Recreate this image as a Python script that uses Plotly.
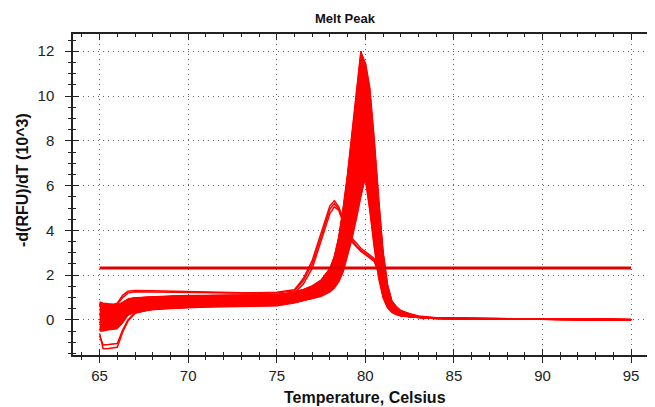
import plotly.graph_objects as go

# ---------------- data ----------------
# temperature grid of the low-temperature (baseline) part
T_base = [65.0, 65.2, 65.5, 65.8, 66.0, 66.3, 66.6, 67.0, 68.0, 69.0, 70.0, 71.0, 72.0, 73.0, 74.0, 75.0]
# temperature grid of the melt-peak part
T_peak = [76.0, 76.5, 77.0, 77.5, 78.0, 78.25, 78.5, 78.75, 79.0, 79.25, 79.5, 79.75, 80.0, 80.25,
          80.5, 80.75, 81.0, 81.25, 81.5, 81.75, 82.0, 82.5, 83.0, 84.0, 86.0, 90.0, 95.0]

# dense band of baseline curves (lower / upper edge), -d(RFU)/dT in 10^3
T_band = [65.0, 65.2, 65.5, 65.8, 66.0, 66.3, 66.6, 67.0, 68.0, 69.0, 70.0, 71.0, 72.0, 73.0, 74.0, 75.0, 76.0, 76.5, 77.0]
band_lower = [-0.5, -0.5, -0.45, -0.42, -0.4, -0.15, 0.2, 0.35, 0.45, 0.5, 0.55, 0.57, 0.58, 0.6, 0.6, 0.62, 0.75, 0.85, 0.95]
band_upper = [0.75, 0.72, 0.7, 0.68, 0.68, 0.8, 0.95, 1.0, 1.05, 1.08, 1.1, 1.1, 1.1, 1.1, 1.12, 1.15, 1.22, 1.3, 1.4]

# dense region of the main melt peak (lower / upper edge of the bundle of curves)
T_env = [76.0, 76.5, 77.0, 77.5, 78.0, 78.25, 78.5, 78.75, 79.0, 79.25, 79.5, 79.75, 80.0, 80.25,
         80.5, 80.75, 81.0, 81.25, 81.5, 81.75, 82.0, 82.5, 83.0]
env_lower = [0.85, 0.89, 0.96, 1.06, 1.26, 1.43, 1.71, 2.17, 2.85, 3.65, 4.56, 5.53, 6.31, 4.93, 3.27, 1.89, 1.00, 0.55, 0.34, 0.24, 0.18, 0.13, 0.11]
env_upper = [1.25, 1.36, 1.52, 1.78, 2.30, 2.82, 3.68, 4.99, 6.53, 8.28, 10.14, 12.0, 11.5, 10.36, 8.08, 5.34, 3.06, 1.58, 0.84, 0.60, 0.42, 0.28, 0.18]

# baseline profiles (values at T_base)
base_B0 = [-0.4, -0.45, -0.4, -0.35, -0.3, -0.05, 0.25, 0.4, 0.5, 0.55, 0.58, 0.6, 0.62, 0.63, 0.65, 0.7]
base_B1 = [-0.1, -0.15, -0.1, -0.05, 0.0, 0.2, 0.45, 0.6, 0.7, 0.75, 0.78, 0.8, 0.82, 0.83, 0.85, 0.88]
base_B2 = [0.25, 0.2, 0.2, 0.22, 0.25, 0.45, 0.7, 0.82, 0.9, 0.93, 0.95, 0.97, 0.98, 0.99, 1.0, 1.02]
base_B3 = [0.65, 0.6, 0.55, 0.55, 0.6, 0.75, 0.9, 0.98, 1.02, 1.05, 1.07, 1.08, 1.09, 1.1, 1.1, 1.12]
base_L1 = [-0.6, -1.28, -1.27, -1.25, -1.22, -0.55, -0.05, 0.3, 0.5, 0.55, 0.58, 0.6, 0.62, 0.63, 0.65, 0.68]
base_L2 = [-0.7, -1.12, -1.1, -1.08, -1.05, -0.45, 0.0, 0.32, 0.48, 0.53, 0.57, 0.6, 0.61, 0.62, 0.64, 0.67]
base_U1 = [0.8, 0.75, 0.72, 0.7, 0.75, 1.1, 1.28, 1.32, 1.3, 1.28, 1.27, 1.25, 1.23, 1.22, 1.22, 1.24]
base_U2 = [0.72, 0.7, 0.68, 0.66, 0.7, 1.0, 1.2, 1.26, 1.25, 1.24, 1.22, 1.2, 1.19, 1.18, 1.19, 1.2]

# melt-peak parts (values at T_peak)
peak_01 = [1.16, 1.27, 1.43, 1.71, 2.25, 2.80, 3.68, 4.99, 6.53, 8.28, 10.14, 12.0, 10.81, 8.43, 5.57, 3.19, 1.65, 0.87, 0.52, 0.34, 0.24, 0.16, 0.12, 0.08, 0.06, 0.04, 0.01]
peak_02 = [1.25, 1.36, 1.52, 1.78, 2.30, 2.82, 3.66, 4.91, 6.38, 8.05, 9.82, 11.6, 10.45, 8.15, 5.39, 3.09, 1.60, 0.85, 0.50, 0.33, 0.24, 0.16, 0.12, 0.09, 0.07, 0.05, 0.02]
peak_03 = [1.05, 1.16, 1.31, 1.57, 2.08, 2.59, 3.41, 4.64, 6.08, 7.72, 9.46, 11.2, 10.09, 7.87, 5.21, 2.99, 1.54, 0.82, 0.49, 0.32, 0.23, 0.16, 0.12, 0.08, 0.06, 0.03, 0.0]
peak_04 = [1.13, 1.21, 1.34, 1.52, 1.89, 2.20, 2.72, 3.56, 4.81, 6.28, 7.95, 9.72, 11.5, 10.36, 8.08, 5.34, 3.06, 1.58, 0.84, 0.60, 0.42, 0.28, 0.18, 0.10, 0.06, 0.04, 0.01]
peak_05 = [0.88, 0.95, 1.09, 1.26, 1.62, 1.92, 2.43, 3.25, 4.47, 5.90, 7.53, 9.27, 11.0, 9.91, 7.73, 5.11, 2.93, 1.52, 0.81, 0.48, 0.32, 0.19, 0.13, 0.08, 0.06, 0.03, 0.01]
peak_06 = [1.15, 1.24, 1.38, 1.62, 2.10, 2.58, 3.34, 4.49, 5.83, 7.35, 8.98, 10.6, 9.55, 7.45, 4.93, 2.83, 1.47, 0.78, 0.47, 0.31, 0.23, 0.15, 0.12, 0.08, 0.05, 0.03, 0.01]
peak_07 = [1.22, 1.29, 1.41, 1.57, 1.89, 2.17, 2.63, 3.37, 4.48, 5.78, 7.26, 8.83, 10.4, 9.37, 7.31, 4.84, 2.78, 1.44, 0.77, 0.52, 0.38, 0.24, 0.16, 0.09, 0.07, 0.04, 0.02]
peak_08 = [1.04, 1.13, 1.27, 1.49, 1.95, 2.40, 3.12, 4.21, 5.48, 6.92, 8.46, 10.0, 9.01, 7.03, 4.65, 2.67, 1.39, 0.74, 0.45, 0.30, 0.22, 0.15, 0.12, 0.07, 0.05, 0.03, 0.0]
peak_09 = [1.12, 1.18, 1.29, 1.43, 1.73, 1.99, 2.42, 3.10, 4.13, 5.33, 6.69, 8.15, 9.6, 8.65, 6.75, 4.47, 2.57, 1.34, 0.72, 0.43, 0.29, 0.18, 0.13, 0.08, 0.06, 0.04, 0.01]
peak_10 = [0.88, 0.97, 1.09, 1.30, 1.72, 2.14, 2.82, 3.82, 5.00, 6.34, 7.77, 9.2, 8.29, 6.47, 4.29, 2.47, 1.28, 0.69, 0.42, 0.28, 0.21, 0.15, 0.12, 0.08, 0.06, 0.03, 0.01]
peak_11 = [1.21, 1.26, 1.36, 1.49, 1.75, 1.98, 2.36, 2.96, 3.87, 4.93, 6.13, 7.42, 8.7, 7.84, 6.12, 4.06, 2.34, 1.22, 0.66, 0.40, 0.27, 0.17, 0.13, 0.09, 0.07, 0.04, 0.02]
peak_12 = [1.12, 1.19, 1.30, 1.48, 1.84, 2.19, 2.77, 3.62, 4.63, 5.77, 6.98, 8.2, 7.39, 5.77, 3.83, 2.21, 1.15, 0.63, 0.38, 0.26, 0.20, 0.14, 0.11, 0.07, 0.05, 0.03, 0.01]
peak_13 = [1.00, 1.05, 1.14, 1.25, 1.48, 1.68, 2.01, 2.55, 3.34, 4.28, 5.34, 6.47, 7.6, 6.85, 5.35, 3.55, 2.05, 1.08, 0.59, 0.36, 0.25, 0.16, 0.12, 0.08, 0.06, 0.03, 0.01]
peak_14 = [1.11, 1.17, 1.26, 1.41, 1.70, 2.00, 2.48, 3.19, 4.03, 4.98, 5.99, 7.0, 6.31, 4.93, 3.27, 1.89, 1.00, 0.55, 0.34, 0.24, 0.18, 0.13, 0.11, 0.07, 0.05, 0.03, 0.0]
peak_15 = [0.85, 0.89, 0.96, 1.06, 1.26, 1.43, 1.71, 2.17, 2.85, 3.65, 4.56, 5.53, 6.5, 5.86, 4.58, 3.04, 1.76, 0.93, 0.52, 0.32, 0.23, 0.15, 0.12, 0.08, 0.06, 0.03, 0.01]
# wells with an extra low-temperature peak (~78.2 C)
peak_S1 = [1.35, 1.85, 2.65, 3.85, 5.1, 5.33, 5.05, 4.5, 4.0, 3.65, 3.4, 3.2, 3.05, 2.9, 2.75, 2.3, 1.4, 0.8, 0.45, 0.3, 0.22, 0.15, 0.12, 0.08, 0.06, 0.03, 0.01]
peak_S2 = [1.3, 1.75, 2.5, 3.7, 4.95, 5.2, 4.95, 4.4, 3.9, 3.55, 3.3, 3.12, 2.98, 2.84, 2.68, 2.2, 1.3, 0.75, 0.43, 0.29, 0.21, 0.15, 0.12, 0.08, 0.05, 0.03, 0.01]
peak_S3 = [1.2, 1.6, 2.3, 3.5, 4.75, 5.05, 4.9, 4.35, 3.82, 3.48, 3.25, 3.06, 2.92, 2.78, 2.62, 2.1, 1.25, 0.7, 0.4, 0.28, 0.2, 0.14, 0.11, 0.07, 0.05, 0.03, 0.0]

# (baseline, peak) pairs making up each well's curve
wells = [
    (base_B2, peak_01), (base_B3, peak_02), (base_B1, peak_03), (base_B2, peak_04),
    (base_L1, peak_05), (base_B2, peak_06), (base_B3, peak_07), (base_B1, peak_08),
    (base_B2, peak_09), (base_B0, peak_10), (base_B3, peak_11), (base_B2, peak_12),
    (base_B1, peak_13), (base_B2, peak_14), (base_L2, peak_15),
    (base_U1, peak_S1), (base_U2, peak_S2), (base_B3, peak_S3),
]

threshold_x = [65.0, 95.0]
threshold_value = 2.32

x_ticks = [65, 70, 75, 80, 85, 90, 95]
y_ticks = [0, 2, 4, 6, 8, 10, 12]

# ---------------- styling ----------------
RED = "#ff0000"
AXC = "#222222"
FONT = "Liberation Sans, Arial, sans-serif"

fig = go.Figure()


def add_band(xs, lo, hi):
    fig.add_trace(go.Scatter(x=xs, y=lo, mode="lines", line=dict(color=RED, width=1),
                             hoverinfo="skip", showlegend=False))
    fig.add_trace(go.Scatter(x=xs, y=hi, mode="lines", fill="tonexty", fillcolor=RED,
                             line=dict(color=RED, width=1), hoverinfo="skip", showlegend=False))


add_band(T_band, band_lower, band_upper)
add_band(T_env, env_lower, env_upper)

for base, peak in wells:
    fig.add_trace(go.Scatter(x=T_base + T_peak, y=base + peak, mode="lines",
                             line=dict(color=RED, width=1.5), showlegend=False))

fig.add_trace(go.Scatter(x=threshold_x, y=[threshold_value] * len(threshold_x), mode="lines",
                         line=dict(color="#e00000", width=3), showlegend=False))

# invisible trace for the overlay axes (inner tick marks)
fig.add_trace(go.Scatter(x=[65], y=[0], xaxis="x2", yaxis="y2", mode="markers",
                         marker=dict(opacity=0), hoverinfo="skip", showlegend=False))

XR = [63.5, 96.35]
YR = [-1.564, 12.77]

# the page adds an 8px body margin, so the figure is 8px smaller on each side
fig.update_layout(
    width=647, height=399,
    margin=dict(l=65, r=0, t=26, b=52),
    paper_bgcolor="white", plot_bgcolor="white",
    showlegend=False,
    xaxis=dict(range=XR, tickmode="array", tickvals=x_ticks, ticktext=[str(v) for v in x_ticks],
               ticks="outside", ticklen=6, tickwidth=1.3, tickcolor=AXC,
               showline=True, linecolor=AXC, linewidth=1.5, mirror=True,
               showgrid=True, gridcolor="#666666", gridwidth=1, griddash="1px,4px",
               zeroline=False, tickfont=dict(family=FONT, size=15, color=AXC),
               minor=dict(dtick=1, tick0=65, ticks="outside", ticklen=3, tickcolor=AXC, tickwidth=1.2, showgrid=False)),
    yaxis=dict(range=YR, tickmode="array", tickvals=y_ticks, ticktext=[str(v) for v in y_ticks],
               ticks="outside", ticklen=6, tickwidth=1.3, tickcolor=AXC,
               showline=True, linecolor=AXC, linewidth=1.5, mirror=False,
               showgrid=True, gridcolor="#666666", gridwidth=1, griddash="1px,4px",
               zeroline=False, tickfont=dict(family=FONT, size=15, color=AXC),
               ticklabelstandoff=8,
               minor=dict(dtick=0.5, tick0=0, ticks="outside", ticklen=3, tickcolor=AXC, tickwidth=1.2, showgrid=False)),
    xaxis2=dict(range=XR, overlaying="x", anchor="y", side="bottom",
                tickmode="array", tickvals=x_ticks, ticks="inside", ticklen=6, tickwidth=1.3, tickcolor=AXC,
                showticklabels=False, showgrid=False, showline=False, zeroline=False, mirror="ticks",
                minor=dict(dtick=1, tick0=65, ticks="inside", ticklen=3, tickcolor=AXC, tickwidth=1.2, showgrid=False)),
    yaxis2=dict(range=YR, overlaying="y", anchor="x", side="left",
                tickmode="array", tickvals=y_ticks, ticks="inside", ticklen=6, tickwidth=1.3, tickcolor=AXC,
                showticklabels=False, showgrid=False, showline=False, zeroline=False,
                minor=dict(dtick=0.5, tick0=0, ticks="inside", ticklen=3, tickcolor=AXC, tickwidth=1.2, showgrid=False)),
    annotations=[
        dict(text="<b>Melt Peak</b>", x=(345 - 73) / 582, y=(355 - 18) / 321, xref="paper", yref="paper",
             showarrow=False, xanchor="center", yanchor="middle", font=dict(family=FONT, size=13, color="#111")),
        dict(text="<b>Temperature, Celsius</b>", x=(365 - 73) / 582, y=(355 - 398) / 321, xref="paper", yref="paper",
             showarrow=False, xanchor="center", yanchor="middle", font=dict(family=FONT, size=16, color="#111")),
        dict(text="<b>-d(RFU)/dT (10^3)</b>", x=(22 - 73) / 582, y=(355 - 180) / 321, xref="paper", yref="paper",
             showarrow=False, xanchor="center", yanchor="middle", textangle=-90,
             font=dict(family=FONT, size=16, color="#111")),
    ],
)

fig.write_html("out.html")
